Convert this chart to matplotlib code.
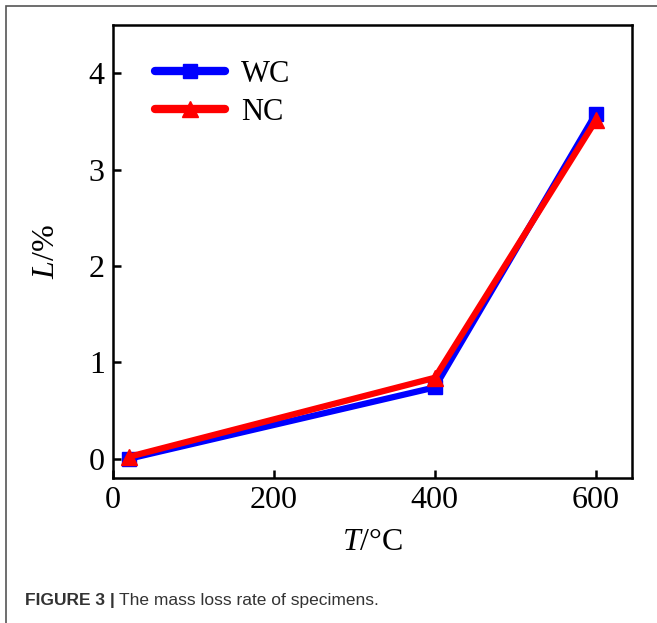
import matplotlib.pyplot as plt
from matplotlib.patches import Rectangle

# data
temps = [20, 400, 600]
wc_loss = [0.0, 0.74, 3.58]
nc_loss = [0.02, 0.84, 3.51]
xticks = [0, 200, 400, 600]
yticks = [0, 1, 2, 3, 4]

plt.rcParams['font.family'] = ['Liberation Serif', 'DejaVu Serif']
plt.rcParams['mathtext.fontset'] = 'custom'
plt.rcParams['mathtext.it'] = 'Liberation Serif:italic'
plt.rcParams['mathtext.rm'] = 'Liberation Serif'

fig = plt.figure(figsize=(6.57, 6.23), dpi=100)
ax = fig.add_axes([113/657, 1 - 478/623, (632-113)/657, (478-25)/623])

ax.plot(temps, wc_loss, color='#0000ff', lw=4.5, marker='s', ms=10,
        solid_capstyle='round', label='WC')
ax.plot(temps, nc_loss, color='#ff0000', lw=4.5, marker='^', ms=12,
        solid_capstyle='round', label='NC')

ax.set_xlim(0, 645)
ax.set_ylim(-0.2, 4.5)
ax.set_xticks(xticks)
ax.set_yticks(yticks)
ax.tick_params(direction='in', length=6, width=1.8, labelsize=23, pad=6)
for s in ax.spines.values():
    s.set_linewidth(1.8)

ax.set_xlabel(r'$\mathit{T}$/°C', fontsize=23, labelpad=9)
ax.set_ylabel(r'$\mathit{L}$/%', fontsize=23, labelpad=20)

leg = ax.legend(loc='upper left', fontsize=22, frameon=False, handlelength=2.3,
                handletextpad=0.5, labelspacing=0.3, borderaxespad=0.3,
                bbox_to_anchor=(0.04, 0.97))
for h in leg.legend_handles:
    h.set_linewidth(6)

# outer frame and caption
fig.patches.append(Rectangle((6/657, -0.1), 1.2, 1 - 6/623 + 0.1, transform=fig.transFigure,
                             fill=False, edgecolor='#555555', lw=1.2))
t1 = fig.text(25/657, 1 - 600/623, 'FIGURE 3 |', fontsize=12.5, fontweight='bold',
              family='Liberation Sans', color='#333333', va='center')
ax.annotate('The mass loss rate of specimens.', xy=(1, 0.5), xycoords=t1,
            xytext=(3, 0), textcoords='offset points', fontsize=12.5,
            family='Liberation Sans', color='#333333', va='center',
            annotation_clip=False)

fig.savefig('out.png', dpi=100)
